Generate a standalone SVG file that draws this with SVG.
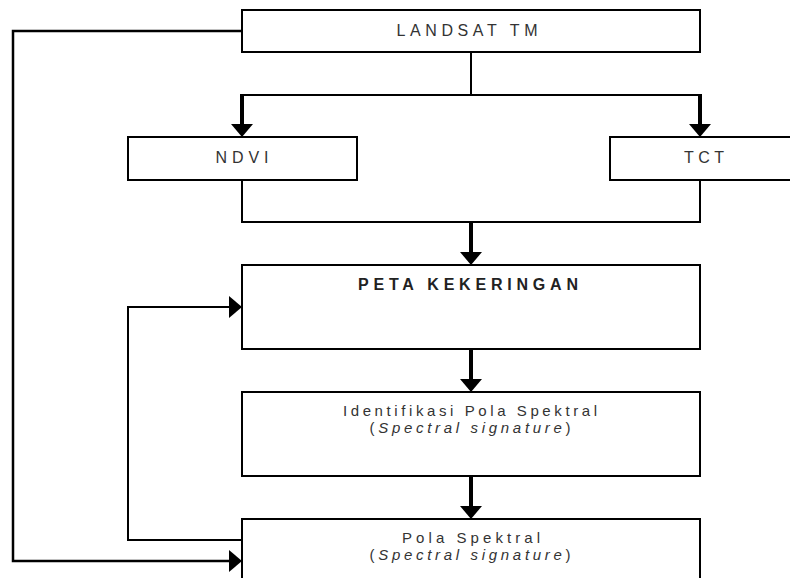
<svg xmlns="http://www.w3.org/2000/svg" width="790" height="578" viewBox="0 0 790 578">
<style>
.box{fill:#fff;stroke:#000;stroke-width:2}
.ln{fill:none;stroke:#000;stroke-width:2}
.thick{fill:none;stroke:#000;stroke-width:4}
.t{font-family:"Liberation Sans",Arial,sans-serif;font-size:16px;fill:#333;text-anchor:middle}
.s{font-size:15px}
.b{font-weight:bold;fill:#222}
</style>
<defs>
<marker id="ah" viewBox="0 0 13 22" markerWidth="13" markerHeight="22" refX="0" refY="11" orient="auto" markerUnits="userSpaceOnUse">
<path d="M0,0 L13,11 L0,22 z" fill="#000"/>
</marker>
</defs>
<rect width="790" height="578" fill="#fff"/>
<g id="connectors">
<path class="ln" d="M242,31 H13 V561 H229" style="stroke-width:2.5" marker-end="url(#ah)"/>
<path class="ln" d="M471,52 V95 M242,95 H700"/>
<path class="thick" d="M242,94 V124" marker-end="url(#ah)"/>
<path class="thick" d="M700,94 V124" marker-end="url(#ah)"/>
<path class="ln" d="M242,180 V222 H700 V180"/>
<path class="thick" d="M471,222 V252" marker-end="url(#ah)"/>
<path class="thick" d="M471,349 V379" marker-end="url(#ah)"/>
<path class="thick" d="M471,476 V506" marker-end="url(#ah)"/>
<path class="ln" d="M242,540 H128 V307 H229" marker-end="url(#ah)"/>
</g>
<g id="landsat">
<rect class="box" x="242" y="10" width="458" height="42"/>
<text class="t" x="467" y="36" textLength="141" lengthAdjust="spacing">LANDSAT TM</text>
</g>
<g id="ndvi">
<rect class="box" x="128" y="137" width="229" height="43"/>
<text class="t" x="242" y="163" textLength="53" lengthAdjust="spacing">NDVI</text>
</g>
<g id="tct">
<rect class="box" x="610" y="137" width="200" height="43"/>
<text class="t" x="704" y="163" textLength="40" lengthAdjust="spacing">TCT</text>
</g>
<g id="peta">
<rect class="box" x="242" y="265" width="458" height="84"/>
<text class="t b" x="468" y="290" textLength="220" lengthAdjust="spacing">PETA KEKERINGAN</text>
</g>
<g id="identifikasi">
<rect class="box" x="242" y="392" width="458" height="84"/>
<text class="t s" x="470" y="416" textLength="254" lengthAdjust="spacing">Identifikasi Pola Spektral</text>
<text class="t s" x="470" y="433" textLength="201" lengthAdjust="spacing">(<tspan font-style="italic">Spectral signature</tspan>)</text>
</g>
<g id="pola">
<rect class="box" x="242" y="519" width="458" height="80"/>
<text class="t s" x="471" y="543" textLength="138" lengthAdjust="spacing">Pola Spektral</text>
<text class="t s" x="470" y="560" textLength="201" lengthAdjust="spacing">(<tspan font-style="italic">Spectral signature</tspan>)</text>
</g>
</svg>
